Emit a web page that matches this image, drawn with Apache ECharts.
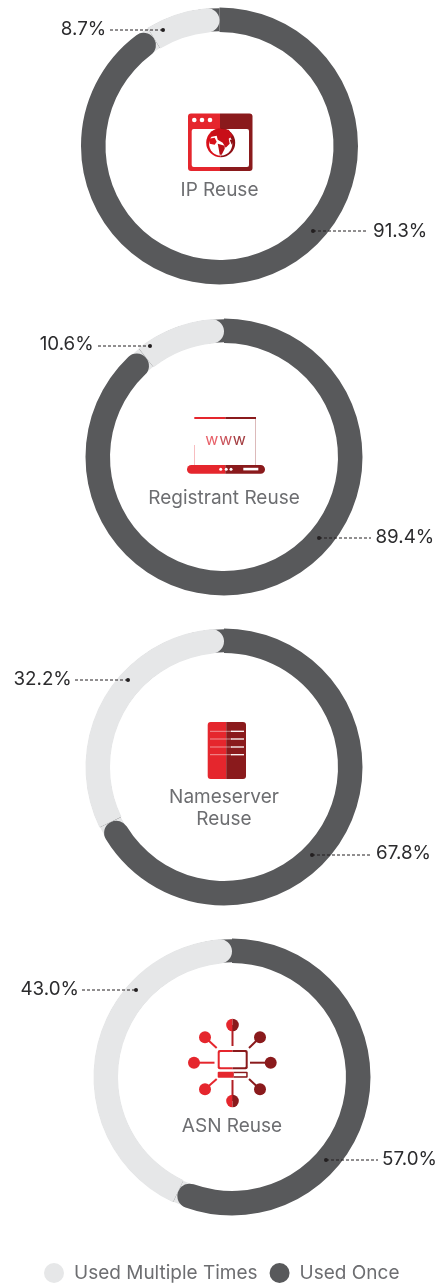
<!DOCTYPE html>
<html><head><meta charset="utf-8">
<style>html,body{margin:0;padding:0;background:#fff}#c{width:441px;height:1283px}</style>
<script src="https://cdn.jsdelivr.net/npm/echarts@6/dist/echarts.min.js"></script>
</head><body><div id="c"></div>
<script>
// ---- data ----
const categories = ['IP Reuse', 'Registrant Reuse', 'Nameserver\nReuse', 'ASN Reuse'];
const seriesNames = ['Used Multiple Times', 'Used Once'];
const usedMultiple = [8.7, 10.6, 32.2, 43.0];
const usedOnce = [91.3, 89.4, 67.8, 57.0];

// ---- layout / style ----
const LIGHT = '#e6e7e8', DARK = '#58595b', RED = '#e5262d', MAROON = '#8a1a1c', GREY = '#6d6e71', INK = '#2b2b2d';
const FONT = 'Inter, "Noto Sans", sans-serif';
const R0 = 114, R1 = 138.5, CAP = 12.25;
const centers = [[219.5, 146], [224, 457], [224, 767], [232, 1077]];
const captionY = [190, 498, 797, 1126];
// leader: [dotX, dotY, lineEndX, textX, textY]
const leadLight = [[163, 30, 110, 106.2, 29], [150, 346, 98, 93.7, 344], [128, 680, 75, 71.8, 679], [136, 990, 82, 79, 989]];
const leadDark = [[313, 231, 367, 373, 231], [319, 538, 371, 375.5, 537], [312, 855, 370, 376, 853], [326, 1160, 378, 382, 1159]];

const series = [];
categories.forEach((cat, i) => {
  const base = {
    type: 'pie', center: centers[i], startAngle: 90, clockwise: true,
    silent: true, label: { show: false }, labelLine: { show: false }, animation: false,
    emphasis: { disabled: true }
  };
  // underlay with swapped colours, so each rounded end shows its neighbour behind it
  series.push(Object.assign({}, base, {
    name: cat + ' underlay', z: 1, radius: [R0 + 0.7, R1 - 0.7],
    data: [
      { name: 'u1', value: usedOnce[i], itemStyle: { color: LIGHT } },
      { name: 'u2', value: usedMultiple[i], itemStyle: { color: DARK } }
    ]
  }));
  series.push(Object.assign({}, base, {
    name: cat, z: 2, radius: [R0, R1],
    data: [
      { name: seriesNames[1], value: usedOnce[i], itemStyle: { color: DARK, borderRadius: [0, CAP, 0, CAP] } },
      { name: seriesNames[0], value: usedMultiple[i], itemStyle: { color: LIGHT, borderRadius: [0, CAP, 0, CAP] } }
    ]
  }));
});

const g = [];
const Z = 10;
const rect = (x, y, w, h, fill, r, opacity) => g.push({ type: 'rect', z: Z, shape: { x, y, width: w, height: h, r: r || 0 }, style: { fill, opacity: opacity == null ? 1 : opacity } });
const circ = (cx, cy, r, fill) => g.push({ type: 'circle', z: Z, shape: { cx, cy, r }, style: { fill } });
const line = (x1, y1, x2, y2, stroke, lw, dash, opacity) => g.push({ type: 'line', z: Z, shape: { x1, y1, x2, y2 }, style: { stroke, lineWidth: lw, lineDash: dash || null, opacity: opacity == null ? 1 : opacity } });
const text = (t, x, y, fill, align, size) => g.push({ type: 'text', z: Z, style: { text: t, x, y, fill, align, verticalAlign: 'middle', font: `400 ${size}px ${FONT}` } });
const poly = (pts, fill) => g.push({ type: 'polygon', z: Z + 1, shape: { points: pts }, style: { fill } });
const halfCirc = (cx, cy, r, fill, left) => g.push({ type: 'sector', z: Z, shape: { cx, cy, r, r0: 0, startAngle: left ? Math.PI / 2 : -Math.PI / 2, endAngle: left ? Math.PI * 1.5 : Math.PI / 2 }, style: { fill } });

// leader lines and value labels
categories.forEach((cat, i) => {
  const a = leadLight[i], b = leadDark[i];
  line(a[2], a[1], a[0], a[1], '#231f20', 1, [3, 2]);
  circ(a[0], a[1], 2, '#231f20');
  text(usedMultiple[i].toFixed(1) + '%', a[3], a[4], INK, 'right', 18.8);
  line(b[0], b[1], b[2], b[1], '#231f20', 1, [3, 2]);
  circ(b[0], b[1], 2, '#231f20');
  text(usedOnce[i].toFixed(1) + '%', b[3], b[4], INK, 'left', 18.8);
});

// captions
categories.forEach((cat, i) => {
  const lines = cat.split('\n');
  lines.forEach((t, k) => text(t, centers[i][0], captionY[i] + k * 22, GREY, 'center', 19));
});

// icon 1: browser window with globe
rect(188, 113.5, 32, 57.5, RED, [3, 0, 0, 3]);
rect(220, 113.5, 32.5, 57.5, MAROON, [0, 3, 3, 0]);
rect(191.7, 129, 57.3, 38, '#fff', 2);
[194.3, 202, 210].forEach(x => circ(x, 120, 2.3, '#fff'));
halfCirc(220.7, 142.7, 14.5, '#d9101a', true);
halfCirc(220.7, 142.7, 14.5, '#8e0f14', false);
circ(220.7, 144, 11.6, '#fff');
const gx = 220.7, gy = 142.7;
const P = a => a.map(p => [gx + p[0], gy + p[1]]);
poly(P([[-10, -11], [-2, -14], [8, -13], [12, -7], [8, -4], [9, 1], [5, 5], [2, 0], [-3, -3], [-4, -7], [-9, -6]]), '#c80f18');
poly(P([[-12, -4], [-6, -5], [-4, -1], [-6, 2], [-11, 1]]), '#d9101a');
poly(P([[-3, 1], [4, 3], [4, 6], [1, 12], [-1, 12], [-2, 6]]), '#b80f16');
poly(P([[9, -3], [13, -3], [11, 2]]), '#8e0f14');

// icon 2: laptop with www
rect(194.3, 417, 31, 2, RED);
rect(225.3, 417, 30.7, 2, MAROON);
line(194.5, 445, 194.5, 465, RED, 1, null, 0.3);
line(255.5, 419, 255.5, 465, MAROON, 1, null, 0.3);
text('w', 211.7, 440, '#e8626a', 'center', 16);
text('w', 225.8, 440, '#c9535b', 'center', 16);
text('w', 239.2, 440, '#a33c40', 'center', 16);
rect(187, 465, 38.3, 8.7, RED, [4.3, 0, 0, 4.3]);
rect(225.3, 465, 39.7, 8.7, MAROON, [0, 4.3, 4.3, 0]);
[220.7, 226.2, 231].forEach(x => circ(x, 469.2, 1.5, '#fff'));
rect(243.3, 467.8, 15, 2.6, '#fff');

// icon 3: server
rect(207.7, 722, 18.5, 57, RED, [3, 0, 0, 3]);
rect(226.2, 722, 19.8, 57, MAROON, [0, 3, 3, 0]);
[731.3, 739, 747, 754.7].forEach(y => {
  line(210, y, 232, y, '#fff', 1, null, 0.5);
  line(231, y, 244, y, '#fff', 1.3);
});

// icon 4: network hub
const hx = 232.5;
const nodesL = [[205, 1037.3, 216.7, 1048], [194, 1062.7, 214.5, 1062.7], [205, 1089.3, 216.7, 1079]];
const nodesR = [[260, 1037.3, 249, 1048], [270.7, 1062.7, 250, 1062.7], [260, 1089.3, 249, 1079]];
nodesL.forEach(n => { line(n[0], n[1], n[2], n[3], RED, 2); circ(n[0], n[1], 6, RED); });
nodesR.forEach(n => { line(n[0], n[1], n[2], n[3], MAROON, 2); circ(n[0], n[1], 6, MAROON); });
line(hx, 1025, hx, 1046, '#b11f24', 2);
line(hx, 1080, hx, 1101, '#b11f24', 2);
[1025, 1101].forEach(y => { halfCirc(hx, y, 6.3, RED, true); halfCirc(hx, y, 6.3, MAROON, false); });
rect(217.7, 1050, 14.8, 19.3, RED, [2, 0, 0, 2]);
rect(232.5, 1050, 15.2, 19.3, MAROON, [0, 2, 2, 0]);
rect(219.7, 1052, 26, 15.3, '#fff', 1);
rect(217.7, 1071.7, 16, 6, RED, [1, 0, 0, 1]);
rect(233.7, 1071.7, 14, 6, MAROON, [0, 1, 1, 0]);
rect(234, 1073.2, 12.2, 3, '#fff');

const chart = echarts.init(document.getElementById('c'), null, { renderer: 'canvas' });
chart.setOption({
  animation: false,
  backgroundColor: '#fff',
  legend: {
    left: 39, top: 1258, itemWidth: 30, itemHeight: 20, itemGap: 12, icon: 'circle', selectedMode: false,
    textStyle: { color: GREY, fontSize: 19, fontFamily: 'Inter' },
    data: [
      { name: seriesNames[0], itemStyle: { color: LIGHT } },
      { name: seriesNames[1], itemStyle: { color: DARK } }
    ]
  },
  series,
  graphic: { elements: g }
});
</script></body></html>
